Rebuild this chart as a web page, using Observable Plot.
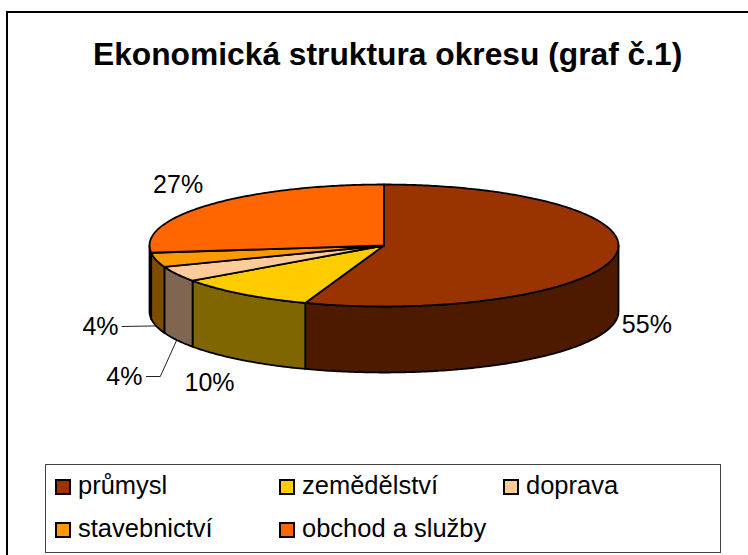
<!DOCTYPE html>
<html lang="cs">
<head>
<meta charset="utf-8">
<script src="https://cdn.jsdelivr.net/npm/d3@7"></script>
<script src="https://cdn.jsdelivr.net/npm/@observablehq/plot@0.6"></script>
<style>
  html, body { margin: 0; padding: 0; background: #fff; overflow: hidden; width: 748px; height: 555px; }
  body { font-family: "Liberation Sans", Arial, sans-serif; color: #000; position: relative; }
  #frame { position: absolute; left: 6px; top: 11px; width: 760px; height: 570px; border-left: 2px solid #000; border-top: 2px solid #000; }
  #title { position: absolute; left: 0; top: 23px; width: 760px; margin: 0; padding-left: 0; font-size: 31.75px; font-weight: bold; line-height: 36px; }
  #title span { position: absolute; left: 85px; white-space: nowrap; }
  #chart { position: absolute; left: 0; top: 160px; }
  #chart svg, #chart figure { display: block; margin: 0; background: transparent; }
  #legend { position: absolute; left: 45px; top: 464px; width: 674px; height: 87px; border: 1px solid #444; background: #fff; box-sizing: content-box;
            display: grid; grid-template-columns: 224px 224px 224px; grid-auto-rows: 43px; padding: 0; font-size: 25.5px; }
  .item { display: flex; align-items: center; padding-left: 9px; height: 43px; white-space: nowrap; }
  .item span:last-child { position: relative; top: -1px; }
  .swatch { width: 16px; height: 16px; box-sizing: border-box; border: 2px solid #000; margin-right: 7px; flex: none; }
</style>
</head>
<body>
<div id="frame"><h1 id="title"><span>Ekonomická struktura okresu (graf č.1)</span></h1></div>
<div id="chart"></div>
<div id="legend"></div>
<script>
// Data
const titleText = "Ekonomická struktura okresu (graf č.1)";
const categories = ["průmysl", "zemědělství", "doprava", "stavebnictví", "obchod a služby"];
const shares = [55.45, 9.75, 4.1, 3.8, 26.9];
const topColors = ["#993300", "#ffcc00", "#ffcc99", "#ff9900", "#ff6600"];
const wallColors = ["#4d1a00", "#806600", "#806650", "#804d00", "#803300"];

// Layout of the tilted pie, in pie units (radius = 1)
const wallDepth = 66 / 61;
const labelAnchors = [[1.121, 1.311], [-0.744, 2.246], [-1.107, 2.148], [-1.209, 1.328], [-0.878, -1.0]];
const leaderElbows = [null, null, [-0.954, 2.148], null, null];
const leaderEnds = [null, null, [-1.013, 2.148], [-1.117, 1.328], null];

const pxW = 748, pxH = 260, rx = 234.5, ry = 61, cx = 383.5, cy = 245 - 160;
const total = d3.sum(shares);
const cumul = d3.cumsum(shares);
const slices = categories.map((name, i) => ({
  i, name,
  a0: (i ? cumul[i - 1] : 0) / total * 360,
  a1: cumul[i] / total * 360
}));
const pt = (deg, drop = 0) => {
  const t = deg * Math.PI / 180;
  return { u: Math.sin(t), v: -Math.cos(t) + drop };
};
const arc = (a0, a1, drop = 0) => {
  const n = Math.max(2, Math.ceil((a1 - a0) / 0.75));
  return d3.range(n + 1).map(k => pt(a0 + (a1 - a0) * k / n, drop));
};

const wallRows = slices.flatMap(s => {
  const a0 = Math.max(s.a0, 90), a1 = Math.min(s.a1, 270);
  if (a1 <= a0) return [];
  return [...arc(a0, a1), ...arc(a0, a1, wallDepth).reverse()]
    .map(p => ({ ...p, key: "w" + s.i, color: wallColors[s.i] }));
});
const topRows = slices.flatMap(s =>
  [{ u: 0, v: 0 }, ...arc(s.a0, s.a1)].map(p => ({ ...p, key: "t" + s.i, color: topColors[s.i] }))
);
const labelRows = slices.map(s => ({
  u: labelAnchors[s.i][0], v: labelAnchors[s.i][1],
  text: Math.round(shares[s.i] / total * 100) + "%"
}));
const leaderRows = slices.flatMap(s => {
  if (!leaderEnds[s.i]) return [];
  const p = pt((s.a0 + s.a1) / 2, wallDepth);
  const pts = [p];
  if (leaderElbows[s.i]) pts.push({ u: leaderElbows[s.i][0], v: leaderElbows[s.i][1] });
  pts.push({ u: leaderEnds[s.i][0], v: leaderEnds[s.i][1] });
  return pts.map(q => ({ ...q, key: "l" + s.i }));
});

const plot = Plot.plot({
  width: pxW, height: pxH,
  margin: 0,
  x: { axis: null, domain: [-cx / rx, (pxW - cx) / rx], range: [0, pxW] },
  y: { axis: null, domain: [-cy / ry, (pxH - cy) / ry], range: [0, pxH] },
  color: { type: "identity" },
  style: { background: "transparent" },
  marks: [
    Plot.line(leaderRows, { x: "u", y: "v", z: "key", stroke: "#222", strokeWidth: 1 }),
    Plot.line(wallRows, { x: "u", y: "v", z: "key", fill: "color", stroke: "#000", strokeWidth: 1.8, curve: "linear-closed", strokeLinejoin: "round" }),
    Plot.line(topRows, { x: "u", y: "v", z: "key", fill: "color", stroke: "#000", strokeWidth: 1.8, curve: "linear-closed", strokeLinejoin: "round" }),
    Plot.text(labelRows, { x: "u", y: "v", text: "text", fontSize: 25, fontFamily: "Liberation Sans, Arial, sans-serif", fill: "#000", textAnchor: "middle", lineAnchor: "middle" })
  ]
});
document.getElementById("chart").appendChild(plot);

const legend = d3.select("#legend");
categories.forEach((name, i) => {
  const item = legend.append("div").attr("class", "item");
  item.append("span").attr("class", "swatch").style("background", topColors[i]);
  item.append("span").text(name);
});
document.querySelector("#title span").textContent = titleText;
</script>
</body>
</html>
